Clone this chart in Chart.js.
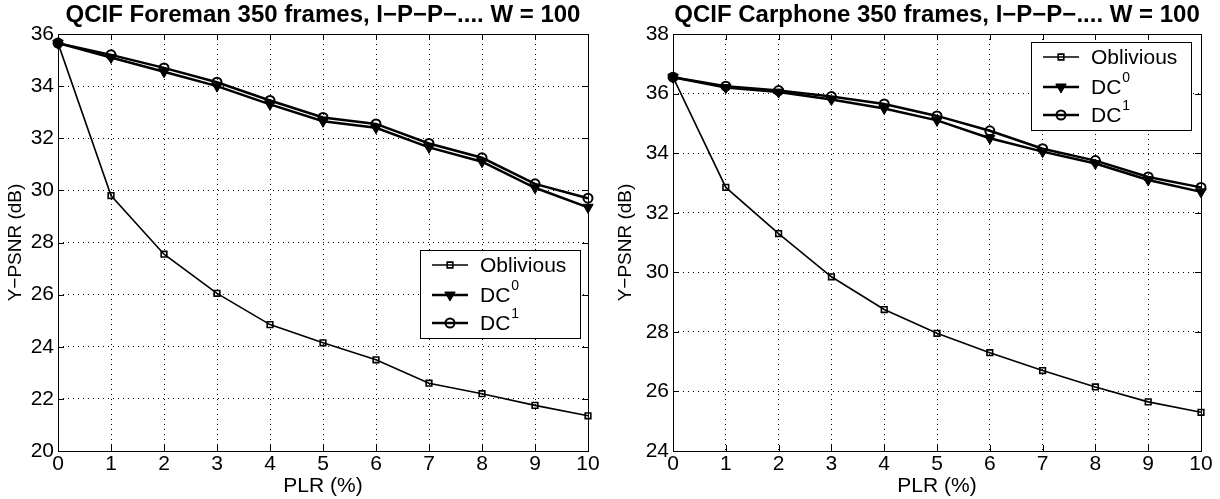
<!DOCTYPE html>
<html lang="en">
<head>
<meta charset="UTF-8">
<title>PSNR vs PLR</title>
<script src="https://cdn.jsdelivr.net/npm/chart.js@4.4.0/dist/chart.umd.min.js"></script>
<style>
  body { margin: 0; background: #fff; }
  .row { display: flex; width: 1220px; height: 499px; }
  canvas { display: block; }
</style>
</head>
<body>
<div class="row">
  <canvas id="foreman" width="610" height="499"></canvas>
  <canvas id="carphone" width="610" height="499"></canvas>
</div>
<script>
// PLR (%) values on the x axis
const plr = [0, 1, 2, 3, 4, 5, 6, 7, 8, 9, 10];

// QCIF Foreman, Y-PSNR (dB)
const foremanOblivious = [35.65, 29.8, 27.55, 26.05, 24.85, 24.15, 23.5, 22.6, 22.2, 21.75, 21.35];
const foremanDC0 = [35.65, 35.1, 34.55, 34.0, 33.3, 32.65, 32.4, 31.65, 31.1, 30.1, 29.35];
const foremanDC1 = [35.65, 35.2, 34.7, 34.15, 33.45, 32.8, 32.55, 31.8, 31.25, 30.25, 29.7];

// QCIF Carphone, Y-PSNR (dB)
const carphoneOblivious = [36.55, 32.85, 31.3, 29.85, 28.75, 27.95, 27.3, 26.7, 26.15, 25.65, 25.3];
const carphoneDC0 = [36.55, 36.2, 36.05, 35.8, 35.5, 35.1, 34.5, 34.05, 33.65, 33.1, 32.7];
const carphoneDC1 = [36.55, 36.25, 36.1, 35.9, 35.65, 35.25, 34.75, 34.15, 33.75, 33.2, 32.85];

const seriesNames = ['Oblivious', 'DC0', 'DC1'];

const FONT = "'Liberation Sans', Arial, sans-serif";

function pts(ys) {
  return plr.map((x, i) => ({ x: x, y: ys[i] }));
}

// matlab style title, box, inward ticks and a legend drawn inside the axes
const boxPlugin = {
  id: 'box',
  afterDraw(chart, args, opts) {
    const ctx = chart.ctx;
    const a = chart.chartArea;
    const xs = chart.scales.x, ys = chart.scales.y;
    ctx.save();

    // title centred over the axes
    ctx.fillStyle = '#000';
    ctx.font = 'bold 24px ' + FONT;
    ctx.textAlign = 'center';
    ctx.textBaseline = 'alphabetic';
    ctx.fillText(opts.title, (a.left + a.right) / 2, 22);

    ctx.strokeStyle = '#000';
    ctx.lineWidth = 1;
    ctx.strokeRect(a.left + 0.5, a.top + 0.5, a.right - a.left, a.bottom - a.top);
    ctx.beginPath();
    xs.ticks.forEach(t => {
      const px = Math.round(xs.getPixelForValue(t.value)) + 0.5;
      ctx.moveTo(px, a.bottom); ctx.lineTo(px, a.bottom - 6);
      ctx.moveTo(px, a.top); ctx.lineTo(px, a.top + 6);
    });
    ys.ticks.forEach(t => {
      const py = Math.round(ys.getPixelForValue(t.value)) + 0.5;
      ctx.moveTo(a.left, py); ctx.lineTo(a.left + 6, py);
      ctx.moveTo(a.right, py); ctx.lineTo(a.right - 6, py);
    });
    ctx.stroke();

    // legend
    const w = 160, h = 88;
    const lx = a.right - opts.right - w;
    const ly = a.top + opts.top;
    ctx.fillStyle = '#fff';
    ctx.fillRect(lx, ly, w, h);
    ctx.strokeRect(lx + 0.5, ly + 0.5, w, h);
    const rows = [ly + 15, ly + 45, ly + 73];
    chart.data.datasets.forEach((ds, i) => {
      const y = rows[i];
      ctx.strokeStyle = '#000';
      ctx.lineWidth = ds.borderWidth;
      ctx.beginPath();
      ctx.moveTo(lx + 12, y); ctx.lineTo(lx + 48, y);
      ctx.stroke();
      ctx.fillStyle = ds.pointBackgroundColor;
      ctx.lineWidth = ds.pointBorderWidth;
      Chart.helpers.drawPoint(ctx, {
        pointStyle: ds.pointStyle, radius: ds.pointRadius, rotation: ds.pointRotation || 0,
        borderWidth: ds.pointBorderWidth
      }, lx + 30, y);
      ctx.fillStyle = '#000';
      ctx.font = '21px ' + FONT;
      ctx.textBaseline = 'middle';
      ctx.textAlign = 'left';
      const name = seriesNames[i];
      if (name.startsWith('DC')) {
        ctx.fillText('DC', lx + 60, y + 1);
        const wDC = ctx.measureText('DC').width;
        ctx.font = '14px ' + FONT;
        ctx.fillText(name.slice(2), lx + 60 + wDC + 1, y - 9);
      } else {
        ctx.fillText(name, lx + 60, y + 1);
      }
    });
    ctx.restore();
  }
};

function makeChart(id, title, obl, dc0, dc1, yMin, yMax, leftW, rightPad, legendPos) {
  const ctx = document.getElementById(id).getContext('2d');
  legendPos.title = title;
  return new Chart(ctx, {
    type: 'line',
    data: {
      datasets: [{
        label: seriesNames[0],
        data: pts(obl),
        borderColor: '#000',
        borderWidth: 1.6,
        pointStyle: 'rect',
        pointRadius: 4,
        pointBorderWidth: 1.6,
        pointBackgroundColor: 'rgba(0,0,0,0)',
        pointBorderColor: '#000',
        clip: false
      }, {
        label: seriesNames[1],
        data: pts(dc0),
        borderColor: '#000',
        borderWidth: 2.5,
        pointStyle: 'triangle',
        pointRotation: 180,
        pointRadius: 6,
        pointBorderWidth: 1,
        pointBackgroundColor: '#000',
        pointBorderColor: '#000',
        clip: false
      }, {
        label: seriesNames[2],
        data: pts(dc1),
        borderColor: '#000',
        borderWidth: 2.5,
        pointStyle: 'circle',
        pointRadius: 4.5,
        pointBorderWidth: 2,
        pointBackgroundColor: 'rgba(0,0,0,0)',
        pointBorderColor: '#000',
        clip: false
      }]
    },
    options: {
      responsive: false,
      animation: false,
      events: [],
      layout: { padding: { left: 0, right: rightPad, top: 34, bottom: 0 } },
      plugins: {
        legend: { display: false },
        tooltip: { enabled: false },
        title: { display: false },
        box: legendPos
      },
      scales: {
        x: {
          type: 'linear',
          min: 0, max: 10,
          afterFit(s) { s.height = 48; },
          ticks: { stepSize: 1, color: '#000', padding: 1, maxRotation: 0,
                   font: { family: FONT, size: 21 } },
          grid: { color: '#000', lineWidth: 1, drawTicks: false },
          border: { display: false, dash: [1, 4] },
          title: { display: true, text: 'PLR (%)', color: '#000',
                   font: { family: FONT, size: 21 }, padding: { top: 0, bottom: 0 } }
        },
        y: {
          min: yMin, max: yMax,
          afterFit(s) { s.width = leftW; },
          ticks: { stepSize: 2, color: '#000', padding: 4,
                   font: { family: FONT, size: 21 } },
          grid: { color: '#000', lineWidth: 1, drawTicks: false },
          border: { display: false, dash: [1, 4] },
          title: { display: true, text: 'Y\u2212PSNR (dB)', color: '#000',
                   font: { family: FONT, size: 19 }, padding: { top: 4, bottom: 0 } }
        }
      }
    },
    plugins: [boxPlugin]
  });
}

makeChart('foreman', 'QCIF Foreman 350 frames, I\u2212P\u2212P\u2212.... W = 100',
  foremanOblivious, foremanDC0, foremanDC1, 20, 36, 58, 22, { right: 8, top: 216 });
makeChart('carphone', 'QCIF Carphone 350 frames, I\u2212P\u2212P\u2212.... W = 100',
  carphoneOblivious, carphoneDC0, carphoneDC1, 24, 38, 63, 19, { right: 10, top: 8 });
</script>
</body>
</html>
